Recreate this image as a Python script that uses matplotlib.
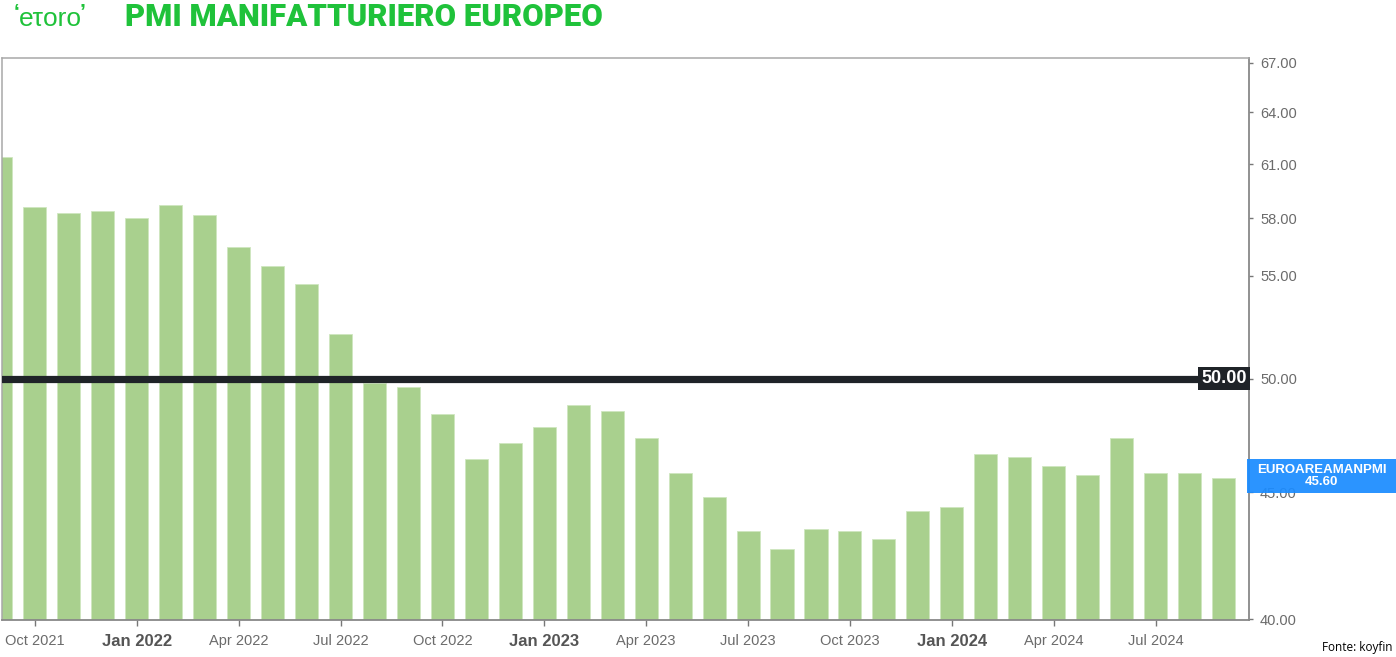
import matplotlib
matplotlib.use("Agg")
import matplotlib.pyplot as plt
from matplotlib.patches import Rectangle
from matplotlib.ticker import FixedLocator, FuncFormatter, NullLocator
import matplotlib.transforms as mtransforms

# ---------------- data ----------------
months = ["2021-09", "2021-10", "2021-11", "2021-12", "2022-01", "2022-02", "2022-03",
          "2022-04", "2022-05", "2022-06", "2022-07", "2022-08", "2022-09", "2022-10",
          "2022-11", "2022-12", "2023-01", "2023-02", "2023-03", "2023-04", "2023-05",
          "2023-06", "2023-07", "2023-08", "2023-09", "2023-10", "2023-11", "2023-12",
          "2024-01", "2024-02", "2024-03", "2024-04", "2024-05", "2024-06", "2024-07",
          "2024-08", "2024-09"]
pmi = [61.4, 58.6, 58.3, 58.4, 58.0, 58.7, 58.2, 56.5, 55.5, 54.6, 52.1, 49.8, 49.6,
       48.4, 46.4, 47.1, 47.8, 48.8, 48.5, 47.3, 45.8, 44.8, 43.4, 42.7, 43.5, 43.4,
       43.1, 44.2, 44.4, 46.6, 46.5, 46.1, 45.7, 47.3, 45.8, 45.8, 45.6]
tick_months = ["2021-10", "2022-01", "2022-04", "2022-07", "2022-10", "2023-01",
               "2023-04", "2023-07", "2023-10", "2024-01", "2024-04", "2024-07"]
tick_labels = ["Oct 2021", "Jan 2022", "Apr 2022", "Jul 2022", "Oct 2022", "Jan 2023",
               "Apr 2023", "Jul 2023", "Oct 2023", "Jan 2024", "Apr 2024", "Jul 2024"]
y_ticks = [40, 45, 50, 55, 58, 61, 64, 67]
threshold = 50.0
series_name = "EUROAREAMANPMI"
last_value = 45.60
title = "PMI MANIFATTURIERO EUROPEO"
source = "Fonte: koyfin"

# ---------------- figure ----------------
W, H = 1396, 657
fig = plt.figure(figsize=(W / 100, H / 100), dpi=100)
plt.rcParams['font.family'] = ['Liberation Sans', 'DejaVu Sans']

green = '#1fc23a'
bar_color = '#a9d08e'
gray = '#6b6b6b'

ax = fig.add_axes([2 / W, 1 - 620 / H, (1249 - 2) / W, (620 - 58) / H])
x = list(range(len(months)))
ax.bar(x, pmi, width=0.68, color=bar_color, edgecolor='#cfe6c0', linewidth=0.6,
       bottom=0, zorder=2)
ax.set_yscale('log')
ax.set_ylim(39.97, 67.3)
ax.set_xlim(0.032, 36.75)

ax.yaxis.set_major_locator(FixedLocator(y_ticks))
ax.yaxis.set_minor_locator(NullLocator())
ax.yaxis.set_major_formatter(FuncFormatter(lambda v, p: f"{v:.2f}"))
ax.yaxis.tick_right()
ax.tick_params(axis='y', which='both', right=True, left=False, length=3, width=1,
               color='#777777', labelcolor=gray, labelsize=10.5, pad=5)

tick_pos = [months.index(m) for m in tick_months]
ax.set_xticks(tick_pos)
ax.set_xticklabels(tick_labels)
ax.tick_params(axis='x', length=4, width=1, color='#777777', labelcolor=gray,
               labelsize=10.5, pad=6)
for lbl in ax.get_xticklabels():
    if lbl.get_text().startswith("Jan"):
        lbl.set_fontweight('bold')
        lbl.set_fontsize(12)
        lbl.set_color('#555555')

for side in ['left', 'top']:
    ax.spines[side].set_color('#a8a8a8')
    ax.spines[side].set_linewidth(1.1)
ax.spines['right'].set_color('#888888')
ax.spines['right'].set_linewidth(1.3)
ax.spines['bottom'].set_color('#888888')
ax.spines['bottom'].set_linewidth(1.3)

# threshold line with label
ax.axhline(threshold, color='#1f2328', linewidth=5.2, zorder=3)
trans = mtransforms.blended_transform_factory(ax.transAxes, ax.transData)
ax.text(0.998, threshold, f"{threshold:.2f}", transform=trans, ha='right', va='center',
        color='white', fontsize=13, fontweight='bold', zorder=5,
        bbox=dict(boxstyle='square,pad=0.18', facecolor='#1f2328', edgecolor='none'))

# last value badge (outside axes, right)
fig.patches.append(Rectangle((1247 / W, 1 - 493 / H), 149 / W, 34 / H,
                             transform=fig.transFigure, facecolor='#1b8cff',
                             edgecolor='none', alpha=0.93, zorder=10))
fig.text((1247 + 1396) / 2 / W, 1 - 476 / H, f"{series_name}\n{last_value:.2f}",
         ha='center', va='center', color='white', fontsize=9.5, fontweight='bold',
         linespacing=1.0, zorder=11)

# title + logo
fig.text(125 / W, 1 - 17 / H, title, ha='left', va='center', color=green,
         fontsize=22.4, fontweight=900, family=['Roboto', 'Liberation Sans'])
fig.text(19 / W, 1 - 19 / H, "eτoro", ha='left', va='center', color=green,
         fontsize=19)
fig.text(14 / W, 1 - 12 / H, "\u2018", ha='left', va='center', color=green,
         fontsize=15, fontweight='bold')
fig.text(80 / W, 1 - 12 / H, "\u2019", ha='left', va='center', color=green,
         fontsize=15, fontweight='bold')

# source
fig.text(1392 / W, 1 - 648 / H, source, ha='right', va='center', color='black',
         fontsize=8.5, family=['Open Sans', 'DejaVu Sans'])

fig.savefig("out.png", dpi=100)
